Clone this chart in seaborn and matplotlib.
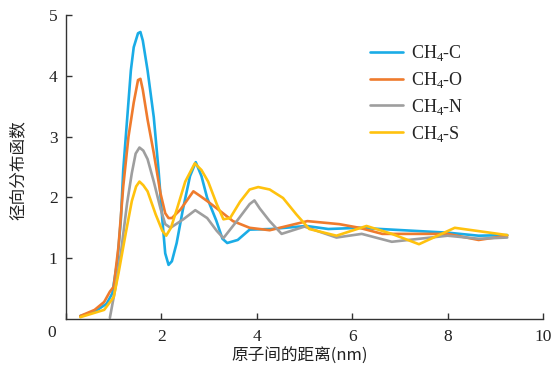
import matplotlib
matplotlib.use("Agg")
import matplotlib.pyplot as plt
import seaborn as sns
import pandas as pd

# ---- data ----
x_c = [0.3, 0.6, 0.85, 0.97, 1.08, 1.15, 1.2, 1.28, 1.36, 1.42, 1.51, 1.56, 1.61, 1.71, 1.84, 1.94, 2.02, 2.08, 2.15, 2.22, 2.32, 2.45, 2.6, 2.72, 2.84, 2.96, 3.15, 3.28, 3.38, 3.6, 3.85, 4.3, 5.04, 5.5, 6.15, 6.6, 7.3, 8.0, 8.65, 9.25]
y_c = [0.05, 0.12, 0.25, 0.42, 0.97, 1.63, 2.45, 3.27, 4.09, 4.47, 4.7, 4.72, 4.58, 4.09, 3.32, 2.45, 1.63, 1.08, 0.89, 0.95, 1.25, 1.8, 2.35, 2.58, 2.35, 1.99, 1.62, 1.32, 1.25, 1.3, 1.47, 1.48, 1.53, 1.48, 1.5, 1.48, 1.45, 1.42, 1.37, 1.38]

x_o = [0.3, 0.6, 0.8, 0.92, 1.0, 1.1, 1.2, 1.31, 1.42, 1.51, 1.56, 1.61, 1.71, 1.84, 1.98, 2.08, 2.15, 2.22, 2.4, 2.67, 2.8, 2.96, 3.16, 3.5, 3.85, 4.06, 4.27, 5.06, 5.73, 6.15, 6.63, 8.0, 8.65, 9.25]
y_o = [0.05, 0.15, 0.28, 0.45, 0.53, 1.19, 2.18, 3.0, 3.56, 3.93, 3.95, 3.77, 3.28, 2.73, 2.07, 1.74, 1.66, 1.66, 1.8, 2.1, 2.03, 1.94, 1.82, 1.61, 1.5, 1.48, 1.46, 1.61, 1.56, 1.5, 1.4, 1.4, 1.3, 1.37]

x_n = [0.92, 1.04, 1.15, 1.28, 1.38, 1.46, 1.54, 1.62, 1.71, 1.84, 1.98, 2.08, 2.19, 2.46, 2.71, 2.96, 3.16, 3.3, 3.58, 3.85, 3.95, 4.06, 4.27, 4.52, 5.0, 5.67, 6.2, 6.83, 8.0, 8.65, 9.25]
y_n = [0.02, 0.53, 1.08, 1.9, 2.4, 2.72, 2.82, 2.77, 2.63, 2.26, 1.82, 1.56, 1.5, 1.64, 1.79, 1.66, 1.45, 1.33, 1.61, 1.89, 1.95, 1.82, 1.61, 1.4, 1.52, 1.34, 1.4, 1.27, 1.37, 1.32, 1.34]

x_s = [0.3, 0.8, 1.0, 1.1, 1.25, 1.38, 1.47, 1.54, 1.62, 1.71, 1.88, 2.02, 2.1, 2.2, 2.33, 2.5, 2.7, 2.84, 2.98, 3.16, 3.3, 3.44, 3.65, 3.85, 4.03, 4.27, 4.55, 4.83, 5.1, 5.67, 6.3, 6.83, 7.4, 7.79, 8.15, 9.25]
y_s = [0.03, 0.15, 0.36, 0.75, 1.4, 1.94, 2.18, 2.26, 2.2, 2.1, 1.72, 1.45, 1.37, 1.5, 1.82, 2.26, 2.56, 2.45, 2.26, 1.89, 1.64, 1.66, 1.93, 2.13, 2.17, 2.13, 1.99, 1.72, 1.48, 1.37, 1.53, 1.4, 1.23, 1.37, 1.5, 1.38]

labels = ["CH$_\\mathregular{4}$-C", "CH$_\\mathregular{4}$-O", "CH$_\\mathregular{4}$-N", "CH$_\\mathregular{4}$-S"]
colors = ["#1AACE6", "#EF7B2D", "#9E9E9E", "#FFC20E"]
x_ticks = [0, 2, 4, 6, 8, 10]
y_ticks = [1, 2, 3, 4, 5]

sns.set_theme(style="white")
plt.rcParams["font.family"] = ["Liberation Serif", "Noto Sans CJK SC"]
plt.rcParams["mathtext.fontset"] = "custom"
plt.rcParams["mathtext.rm"] = "Liberation Serif"

fig = plt.figure(figsize=(5.55, 3.72), dpi=100)
ax = fig.add_axes([66 / 555, 1 - 319 / 372, (543 - 66) / 555, (319 - 15) / 372])

for xs, ys, lab, col in zip([x_c, x_o, x_n, x_s], [y_c, y_o, y_n, y_s], labels, colors):
    df = pd.DataFrame({"x": xs, "y": ys})
    sns.lineplot(data=df, x="x", y="y", ax=ax, color=col, linewidth=1.9,
                 label=lab, sort=False, estimator=None)

ax.set_xlim(0, 10)
ax.set_ylim(0, 5)
ax.set_xticks(x_ticks)
ax.set_xticklabels([""] + [str(v) for v in x_ticks[1:]])
ax.set_yticks(y_ticks)
ax.set_yticklabels([str(v) for v in y_ticks])
ax.tick_params(direction="in", length=4, width=1, color="#333333",
               labelsize=12.5, labelcolor="#222222", bottom=True, left=True)
ax.tick_params(axis="x", pad=7)
ax.tick_params(axis="y", pad=6)
ax.text(-0.29, -0.23, "0", ha="center", va="center", fontsize=12.5,
        color="#222222", clip_on=False)

for s in ["top", "right"]:
    ax.spines[s].set_visible(False)
for s in ["left", "bottom"]:
    ax.spines[s].set_color("#333333")
    ax.spines[s].set_linewidth(1.0)

ax.set_xlabel("原子间的距离(nm)", family=["Noto Sans CJK SC"], fontsize=12, color="#222222")
ax.set_ylabel("径向分布函数", family=["Noto Sans CJK SC"], fontsize=12, color="#222222")
ax.xaxis.set_label_coords(0.49, -0.095)
ax.yaxis.set_label_coords(-0.083, 0.49)

leg = ax.legend(loc="upper left", bbox_to_anchor=(370 / 555, 1 - 43 / 372),
                bbox_transform=fig.transFigure, frameon=False, fontsize=13,
                handlelength=1.8, handletextpad=0.45, labelspacing=0.38,
                borderpad=0, borderaxespad=0)
for line in leg.get_lines():
    line.set_linewidth(1.9)

fig.savefig("out.png", dpi=100)
